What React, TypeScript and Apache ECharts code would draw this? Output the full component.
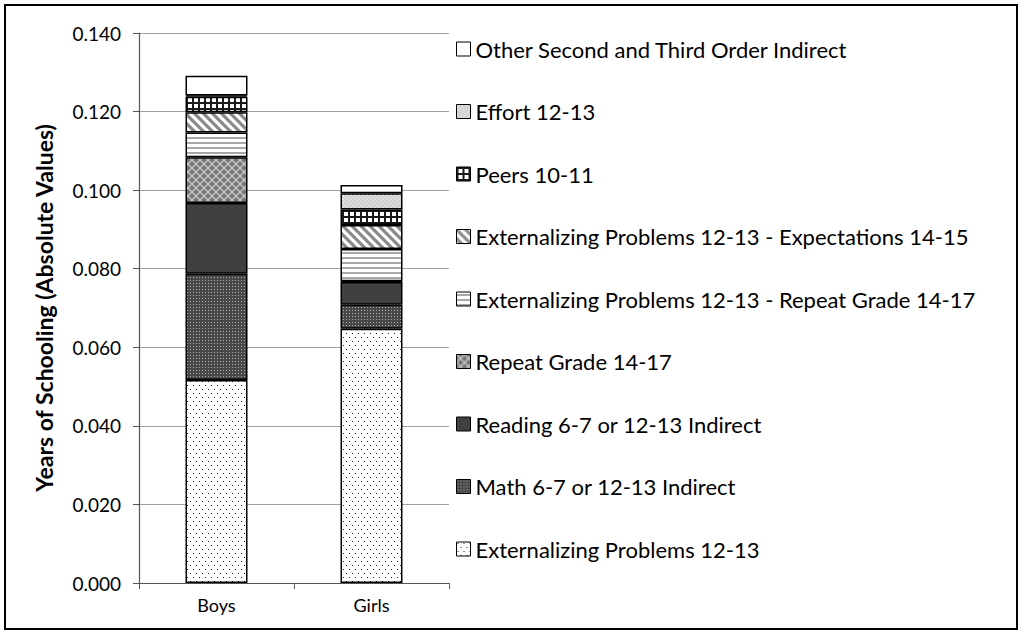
import React, { useEffect, useRef } from 'react';
import * as echarts from 'echarts';

const categories = ['Boys', 'Girls'];
const seriesNames = [
  'Externalizing Problems 12-13',
  'Math 6-7 or 12-13 Indirect',
  'Reading 6-7 or 12-13 Indirect',
  'Repeat Grade 14-17',
  'Externalizing Problems 12-13 - Repeat Grade 14-17',
  'Externalizing Problems 12-13 - Expectations 14-15',
  'Peers 10-11',
  'Effort 12-13',
  'Other Second and Third Order Indirect',
];
const extProblems = [0.0517, 0.0647];
const mathIndirect = [0.027, 0.0061];
const readingIndirect = [0.018, 0.0058];
const repeatGrade = [0.0117, 0.0002];
const extRepeat = [0.0063, 0.0082];
const extExpect = [0.0051, 0.0061];
const peers = [0.004, 0.004];
const effort = [0.0003, 0.0041];
const otherIndirect = [0.005, 0.0021];
const yTicks = [0, 0.02, 0.04, 0.06, 0.08, 0.1, 0.12, 0.14];

const values = [extProblems, mathIndirect, readingIndirect, repeatGrade, extRepeat, extExpect, peers, effort, otherIndirect];

function pattern(w: number, h: number, draw: (ctx: CanvasRenderingContext2D) => void) {
  const c = document.createElement('canvas');
  c.width = w;
  c.height = h;
  const ctx = c.getContext('2d') as CanvasRenderingContext2D;
  draw(ctx);
  return { image: c, repeat: 'repeat', imageWidth: w, imageHeight: h } as any;
}

function makeFills() {
  const dots = pattern(6, 8, (ctx) => {
    ctx.fillStyle = '#fff';
    ctx.fillRect(0, 0, 6, 8);
    ctx.fillStyle = '#222';
    ctx.fillRect(1, 1, 1, 1);
    ctx.fillRect(4, 5, 1, 1);
  });
  const math = pattern(3, 3, (ctx) => {
    ctx.fillStyle = '#484848';
    ctx.fillRect(0, 0, 3, 3);
    ctx.fillStyle = '#b0b0b0';
    ctx.fillRect(1, 1, 1, 1);
  });
  const reading = '#404040';
  const repeat = pattern(8, 8, (ctx) => {
    ctx.fillStyle = '#767676';
    ctx.fillRect(0, 0, 8, 8);
    ctx.strokeStyle = '#c8c8c8';
    ctx.lineWidth = 1.3;
    ctx.beginPath();
    ctx.moveTo(0, 0); ctx.lineTo(8, 8);
    ctx.moveTo(8, 0); ctx.lineTo(0, 8);
    ctx.stroke();
  });
  const extRep = pattern(6, 5, (ctx) => {
    ctx.fillStyle = '#fff';
    ctx.fillRect(0, 0, 6, 5);
    ctx.fillStyle = '#a8a8a8';
    ctx.fillRect(0, 2, 6, 2);
  });
  const extExp = pattern(9, 9, (ctx) => {
    ctx.fillStyle = '#fff';
    ctx.fillRect(0, 0, 9, 9);
    ctx.strokeStyle = '#8a8a8a';
    ctx.lineWidth = 3.2;
    ctx.beginPath();
    for (const k of [-9, 0, 9]) {
      ctx.moveTo(k - 1, -1);
      ctx.lineTo(k + 10, 10);
    }
    ctx.stroke();
  });
  const peersPat = pattern(6, 6, (ctx) => {
    ctx.fillStyle = '#fff';
    ctx.fillRect(0, 0, 6, 6);
    ctx.fillStyle = '#1a1a1a';
    ctx.fillRect(0, 0, 2, 6);
    ctx.fillRect(0, 0, 6, 2);
  });
  const effortPat = pattern(4, 4, (ctx) => {
    ctx.fillStyle = '#d2d2d2';
    ctx.fillRect(0, 0, 4, 4);
    ctx.fillStyle = '#f4f4f4';
    ctx.fillRect(1, 1, 1, 1);
    ctx.fillRect(3, 3, 1, 1);
  });
  return [dots, math, reading, repeat, extRep, extExp, peersPat, effortPat, '#ffffff'];
}

const FONT = 'Lato, "Noto Sans", sans-serif';

export default function App() {
  const ref = useRef<HTMLDivElement>(null);
  useEffect(() => {
    if (!ref.current) return;
    const chart = echarts.init(ref.current, undefined, { renderer: 'svg' });
    const fills = makeFills();
    const option: any = {
      animation: false,
      backgroundColor: '#fff',
      textStyle: { fontFamily: FONT },
      graphic: [
        {
          type: 'rect',
          shape: { x: 5, y: 5, width: 1012, height: 624 },
          style: { fill: 'none', stroke: '#000', lineWidth: 2 },
          silent: true,
        },
      ],
      grid: { left: 139, right: 573, top: 33, bottom: 51 },
      legend: {
        orient: 'vertical',
        left: 451,
        top: 33,
        itemWidth: 14,
        itemHeight: 14,
        itemGap: 40.5,
        icon: 'rect',
        data: seriesNames.slice().reverse(),
        itemStyle: { borderWidth: 1, borderColor: '#000' },
        textStyle: { fontFamily: FONT, fontSize: 22, color: '#000', lineHeight: 22 },
        selectedMode: false,
      },
      xAxis: {
        type: 'category',
        data: categories,
        axisLine: { lineStyle: { color: '#555', width: 1.2 } },
        axisTick: { show: true, length: 6, alignWithLabel: false, lineStyle: { color: '#555' } },
        axisLabel: { fontFamily: FONT, fontSize: 18, color: '#000', margin: 13 },
      },
      yAxis: {
        type: 'value',
        min: 0,
        max: 0.14,
        interval: 0.02,
        name: 'Years of Schooling (Absolute Values)',
        nameLocation: 'middle',
        nameGap: 84,
        nameTextStyle: { fontFamily: FONT, fontSize: 23, fontWeight: 'bold', color: '#000' },
        axisLine: { show: true, lineStyle: { color: '#555', width: 1.2 } },
        axisTick: { show: true, length: 6, lineStyle: { color: '#555' } },
        axisLabel: {
          fontFamily: FONT,
          fontSize: 19,
          color: '#000',
          margin: 18,
          formatter: (v: number) => {
            const t = yTicks.find((x) => Math.abs(x - v) < 1e-9);
            return (t === undefined ? v : t).toFixed(3);
          },
        },
        splitLine: { show: true, lineStyle: { color: '#a0a0a0', width: 1 } },
      },
      series: seriesNames.map((name, i) => ({
        name,
        type: 'bar',
        stack: 'total',
        barWidth: '40%',
        data: values[i],
        itemStyle: { color: fills[i], borderColor: '#000', borderWidth: 1.5 },
        emphasis: { disabled: true },
      })),
    };
    chart.setOption(option);
    return () => chart.dispose();
  }, []);
  return (
    <div
      ref={ref}
      style={{ position: 'fixed', left: 0, top: 0, width: 1022, height: 634, background: '#fff' }}
    />
  );
}
